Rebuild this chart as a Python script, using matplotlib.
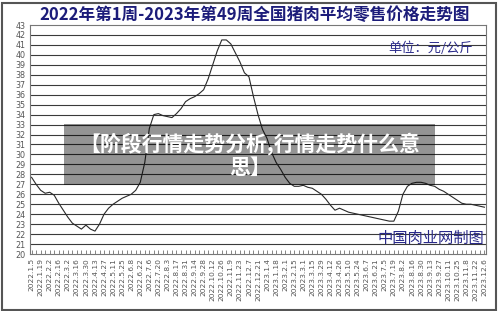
import matplotlib
matplotlib.use("Agg")
import matplotlib.pyplot as plt
from matplotlib.patches import Rectangle
import numpy as np

plt.rcParams['font.family'] = ['Noto Sans CJK SC', 'DejaVu Sans']

title = "2022年第1周-2023年第49周全国猪肉平均零售价格走势图"
unit_label = "单位：元/公斤"
source_label = "中国肉业网制图"
overlay_text = "【阶段行情走势分析,行情走势什么意\n思】"

prices = [
    27.7, 27.0, 26.4, 26.1, 26.2, 25.9, 25.1, 24.4, 23.7, 23.1,
    22.8, 22.5, 22.9, 22.5, 22.3, 23.0, 24.0, 24.6, 25.0, 25.3,
    25.6, 25.8, 26.0, 26.4, 27.2, 29.2, 32.6, 34.0, 34.1, 33.9,
    33.8, 33.7, 34.1, 34.6, 35.3, 35.6, 35.8, 36.1, 36.5, 37.6,
    39.0, 40.4, 41.5, 41.5, 41.1, 40.2, 39.3, 38.2, 37.8, 35.8,
    34.0, 32.5, 31.6, 30.2, 29.2, 28.5, 27.7, 27.1, 26.8, 26.8,
    26.9, 26.7, 26.6, 26.3, 26.0, 25.5, 24.9, 24.4, 24.6, 24.4,
    24.2, 24.1, 24.0, 23.9, 23.8, 23.7, 23.6, 23.5, 23.4, 23.3,
    23.3, 24.3, 26.0, 26.8, 27.1, 27.2, 27.2, 27.1, 26.9, 26.8,
    26.5, 26.3, 26.0, 25.7, 25.4, 25.1, 25.0, 25.0, 24.9, 24.8,
    24.7,
]

tick_labels = [
    "2022.1.5", "2022.1.19", "2022.2.2", "2022.2.16", "2022.3.2", "2022.3.16",
    "2022.3.30", "2022.4.13", "2022.4.27", "2022.5.11", "2022.5.25", "2022.6.8",
    "2022.6.22", "2022.7.6", "2022.7.20", "2022.8.3", "2022.8.17", "2022.8.31",
    "2022.9.14", "2022.9.28", "2022.10.12", "2022.10.26", "2022.11.9", "2022.11.23",
    "2022.12.7", "2022.12.21", "2023.1.4", "2023.1.18", "2023.2.1", "2023.2.15",
    "2023.3.1", "2023.3.15", "2023.3.29", "2023.4.12", "2023.4.26", "2023.5.10",
    "2023.5.24", "2023.6.7", "2023.6.21", "2023.7.5", "2023.7.19", "2023.8.2",
    "2023.8.16", "2023.8.30", "2023.9.13", "2023.9.27", "2023.10.11", "2023.10.25",
    "2023.11.8", "2023.11.22", "2023.12.6",
]

W, H = 500, 311
fig = plt.figure(figsize=(W / 100, H / 100), dpi=100)
fig.patch.set_facecolor("white")

ax = fig.add_axes([30 / W, 1 - 254 / H, (486 - 30) / W, (254 - 25) / H])
x = np.arange(len(prices))
ax.set_xlim(-0.35, len(prices) - 1 + 0.35)
ax.set_ylim(20, 43)

for v in range(21, 43):
    ax.axhline(v, color="#3a3a3a", lw=0.8, zorder=1)

ax.plot(x, prices, color="#2a2a2a", lw=0.8, zorder=3)

ax.set_yticks(range(20, 44))
ax.set_yticklabels([str(v) for v in range(20, 44)], fontsize=5.8, color="#555555",
                   family=["DejaVu Sans"])
ax.tick_params(axis="y", length=0, pad=3)

ax.set_xticks(x[::2])
ax.set_xticklabels(tick_labels, rotation=90, fontsize=5.3, color="#555555",
                   family=["DejaVu Sans"])
ax.set_xticks(x, minor=True)
ax.tick_params(axis="x", which="both", direction="in", length=3, width=0.5,
               color="#555555", pad=3)

for s in ax.spines.values():
    s.set_color("#777777")
    s.set_linewidth(0.8)

fig.text(255 / W, 1 - 15 / H, title, ha="center", va="center", fontsize=12,
         fontweight="bold", color="#1c1c7a")
fig.text(473 / W, 1 - 48 / H, unit_label, ha="right", va="center", fontsize=9.5,
         color="#2a2a8a")
fig.text(484 / W, 1 - 238 / H, source_label, ha="right", va="center", fontsize=11,
         color="#2a2a8a")

fig.patches.append(Rectangle((64 / W, 1 - 185 / H), (435 - 64) / W, (185 - 124) / H,
                             transform=fig.transFigure, facecolor="black",
                             alpha=0.42, edgecolor="none", zorder=5))
fig.text(250 / W, 1 - 155 / H, overlay_text, ha="center", va="center",
         fontsize=15, fontweight="bold", color="white", linespacing=1.15, zorder=6)

fig.patches.append(Rectangle((1.5 / W, 1.5 / H), (496 - 1.5) / W, (309 - 2) / H,
                             transform=fig.transFigure, facecolor="none",
                             edgecolor="#555555", lw=1.5, zorder=10))

fig.savefig("out.png", dpi=100, facecolor="white")
